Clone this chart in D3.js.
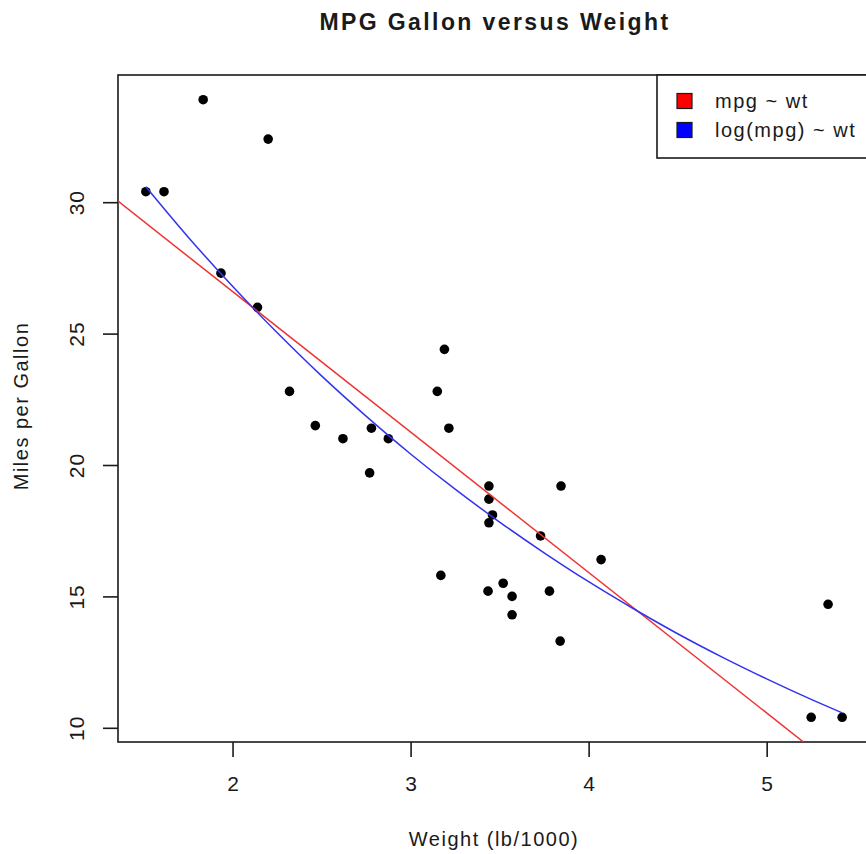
<!DOCTYPE html>
<html>
<head>
<meta charset="utf-8">
<script src="https://cdn.jsdelivr.net/npm/d3@7"></script>
<style>
  html, body { margin: 0; padding: 0; background: #fff; }
  svg { display: block; }
  text { font-family: "Liberation Sans", Arial, sans-serif; fill: #1a1a1a; }
</style>
</head>
<body>
<svg id="chart" width="866" height="854"></svg>
<script>
// ---- data (mtcars: weight vs mpg) ----
const weight = [2.620, 2.875, 2.320, 3.215, 3.440, 3.460, 3.570, 3.190, 3.150, 3.440, 3.440,
                4.070, 3.730, 3.780, 5.250, 5.424, 5.345, 2.200, 1.615, 1.835, 2.465, 3.520,
                3.435, 3.840, 3.845, 1.935, 2.140, 1.513, 3.170, 2.770, 3.570, 2.780];
const mpg = [21.0, 21.0, 22.8, 21.4, 18.7, 18.1, 14.3, 24.4, 22.8, 19.2, 17.8,
             16.4, 17.3, 15.2, 10.4, 10.4, 14.7, 32.4, 30.4, 33.9, 21.5, 15.5,
             15.2, 13.3, 19.2, 27.3, 26.0, 30.4, 15.8, 19.7, 15.0, 21.4];

// linear fit mpg ~ wt (line end points)
const linWt  = [1.3566, 5.2068];
const linMpg = [30.04, 9.46];

// back-transformed fit of log(mpg) ~ wt
const logFitWt  = [1.513, 1.75, 2.0, 2.25, 2.5, 2.75, 3.0, 3.25, 3.5, 3.75,
                   4.0, 4.25, 4.5, 4.75, 5.0, 5.25, 5.424];
const logFitMpg = [30.59, 28.68, 26.80, 25.04, 23.39, 21.86, 20.42, 19.08, 17.83, 16.66,
                   15.56, 14.54, 13.58, 12.69, 11.86, 11.08, 10.57];

const xTicks = [2, 3, 4, 5];
const yTicks = [10, 15, 20, 25, 30];
const legendLabels = ["mpg ~ wt", "log(mpg) ~ wt"];
const legendColors = ["#ff0000", "#0000ff"];

// ---- layout ----
const svg = d3.select("#chart");
const pLeft = 118, pRight = 870, pTop = 75, pBottom = 742;

const x = d3.scaleLinear().domain([1.3566, 5.5804]).range([pLeft, pRight]);
const y = d3.scaleLinear().domain([9.46, 34.84]).range([pBottom, pTop]);

svg.append("defs").append("clipPath").attr("id", "plotclip")
  .append("rect").attr("x", pLeft).attr("y", pTop).attr("width", pRight - pLeft).attr("height", pBottom - pTop);

// title
svg.append("text")
  .attr("x", 495).attr("y", 30)
  .attr("text-anchor", "middle")
  .style("font-size", "23px").style("font-weight", "bold")
  .style("letter-spacing", "2.4px")
  .text("MPG Gallon versus Weight");

// x axis
const xAxis = svg.append("g").attr("transform", `translate(0,${pBottom})`)
  .call(d3.axisBottom(x).tickValues(xTicks).tickFormat(d3.format("d")).tickSize(15).tickPadding(19));
xAxis.select(".domain").remove();
xAxis.selectAll("line").attr("stroke", "#1a1a1a").attr("stroke-width", 1.6);
xAxis.selectAll("text").style("font-size", "21px").style("font-family", "Liberation Sans, Arial, sans-serif").attr("fill", "#1a1a1a");

// y axis
const yAxis = svg.append("g").attr("transform", `translate(${pLeft},0)`)
  .call(d3.axisLeft(y).tickValues(yTicks).tickFormat(d3.format("d")).tickSize(15).tickPadding(0));
yAxis.select(".domain").remove();
yAxis.selectAll("line").attr("stroke", "#1a1a1a").attr("stroke-width", 1.6);
yAxis.selectAll("text")
  .style("font-size", "21px").style("font-family", "Liberation Sans, Arial, sans-serif").attr("fill", "#1a1a1a")
  .style("letter-spacing", "1px")
  .attr("x", null).attr("dy", null)
  .attr("text-anchor", "middle")
  .attr("transform", `translate(-34,0) rotate(-90)`);

// axis labels
svg.append("text")
  .attr("x", 494).attr("y", 846)
  .attr("text-anchor", "middle")
  .style("font-size", "20px").style("letter-spacing", "1.5px")
  .text("Weight (lb/1000)");
svg.append("text")
  .attr("transform", `translate(28,406) rotate(-90)`)
  .attr("text-anchor", "middle")
  .style("font-size", "20px").style("letter-spacing", "1.5px")
  .text("Miles per Gallon");

// plot box
svg.append("rect")
  .attr("x", pLeft).attr("y", pTop).attr("width", pRight - pLeft).attr("height", pBottom - pTop)
  .attr("fill", "none").attr("stroke", "#1a1a1a").attr("stroke-width", 1.6);

const plot = svg.append("g").attr("clip-path", "url(#plotclip)");

// points
plot.selectAll("circle.pt").data(d3.range(weight.length)).enter()
  .append("circle").attr("class", "pt")
  .attr("cx", i => x(weight[i])).attr("cy", i => y(mpg[i])).attr("r", 4.8)
  .attr("fill", "#000");

// red linear fit
const line = d3.line().x(d => x(d[0])).y(d => y(d[1])).curve(d3.curveMonotoneX);
plot.append("path")
  .datum(linWt.map((w, i) => [w, linMpg[i]]))
  .attr("d", line).attr("fill", "none")
  .attr("stroke", "#ee3333").attr("stroke-width", 1.5);

// blue log fit
plot.append("path")
  .datum(logFitWt.map((w, i) => [w, logFitMpg[i]]))
  .attr("d", line).attr("fill", "none")
  .attr("stroke", "#3333ee").attr("stroke-width", 1.5);

// legend
const lg = svg.append("g");
lg.append("rect").attr("x", 657).attr("y", pTop).attr("width", pRight - 657).attr("height", 83)
  .attr("fill", "#fff").attr("stroke", "#1a1a1a").attr("stroke-width", 1.6);
legendLabels.forEach((lab, i) => {
  const cy = 101 + i * 29;
  lg.append("rect").attr("x", 677).attr("y", cy - 7.5).attr("width", 15).attr("height", 15)
    .attr("fill", legendColors[i]).attr("stroke", "#1a1a1a").attr("stroke-width", 1.2);
  lg.append("text").attr("x", 715).attr("y", cy + 7)
    .style("font-size", "20px").style("letter-spacing", "1.5px")
    .text(lab);
});
</script>
</body>
</html>
